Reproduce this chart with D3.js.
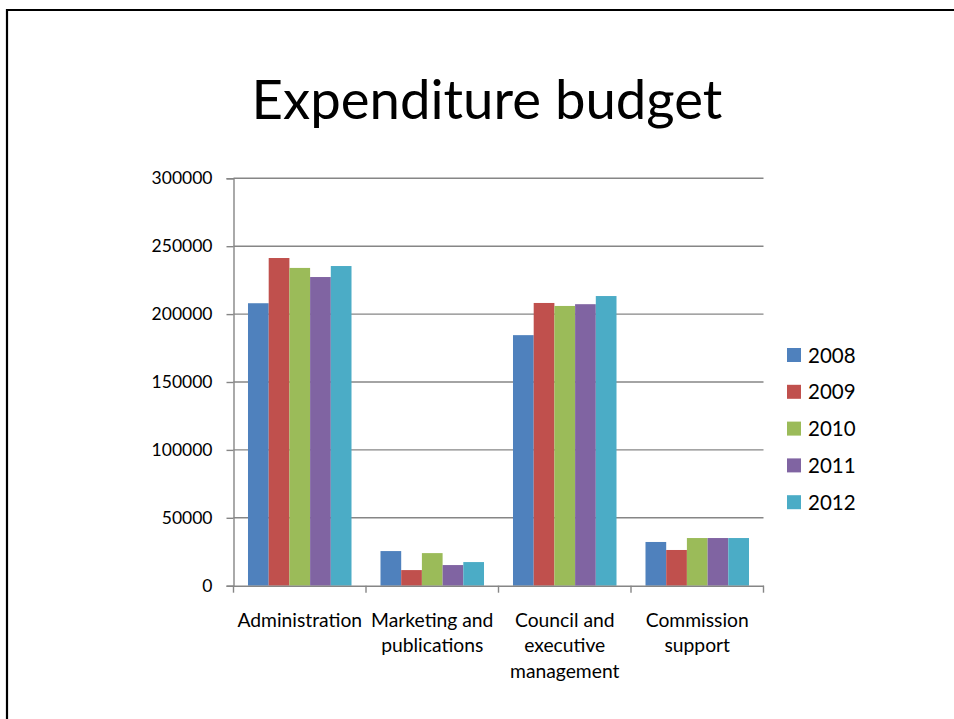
<!DOCTYPE html>
<html>
<head>
<meta charset="utf-8">
<script src="https://cdn.jsdelivr.net/npm/d3@7/dist/d3.min.js"></script>
<style>
  html, body { margin: 0; padding: 0; background: #fff; }
  svg { display: block; font-family: Lato, "Open Sans", sans-serif; }
</style>
</head>
<body>
<svg id="chart" width="954" height="719"></svg>
<script>
const title = "Expenditure budget";
const categories = [
  ["Administration"],
  ["Marketing and", "publications"],
  ["Council and", "executive", "management"],
  ["Commission", "support"]
];
const seriesNames = ["2008", "2009", "2010", "2011", "2012"];
const colors = ["#4F81BD", "#C0504D", "#9BBB59", "#8064A2", "#4BACC6"];
const values2008 = [208000, 25500, 184500, 32200];
const values2009 = [241300, 11500, 208200, 26300];
const values2010 = [234000, 24000, 206000, 35100];
const values2011 = [227300, 15200, 207300, 35100];
const values2012 = [235400, 17400, 213300, 35100];
const yTicks = [0, 50000, 100000, 150000, 200000, 250000, 300000];

const seriesValues = [values2008, values2009, values2010, values2011, values2012];
const catKeys = categories.map(c => c.join(" "));

const svg = d3.select("#chart");

// Slide frame
svg.append("path")
  .attr("d", "M7,719 V10 H954")
  .attr("fill", "none")
  .attr("stroke", "#000")
  .attr("stroke-width", 2.2);

// Title
svg.append("text")
  .attr("x", 487)
  .attr("y", 119)
  .attr("text-anchor", "middle")
  .attr("font-size", 54.5)
  .attr("fill", "#000")
  .text(title);

const plot = { left: 233.5, right: 763.5, top: 178.3, bottom: 585.7 };

const y = d3.scaleLinear().domain([0, 300000]).range([plot.bottom, plot.top]);
const x0 = d3.scaleBand().domain(catKeys).range([plot.left, plot.right]).paddingInner(0).paddingOuter(0);
const x1 = d3.scaleBand().domain(seriesNames).range([0, x0.bandwidth()]).paddingInner(0).paddingOuter(0.7);

const g = svg.append("g");

// Gridlines
g.append("g")
  .selectAll("line")
  .data(yTicks.filter(t => t > 0))
  .join("line")
  .attr("x1", plot.left)
  .attr("x2", plot.right)
  .attr("y1", d => y(d))
  .attr("y2", d => y(d))
  .attr("stroke", "#868686")
  .attr("stroke-width", 1.4);

// Bars
const groups = g.append("g")
  .selectAll("g")
  .data(catKeys)
  .join("g")
  .attr("transform", d => `translate(${x0(d)},0)`);

groups.selectAll("rect")
  .data((d, i) => seriesNames.map((s, j) => ({ s, v: seriesValues[j][i], j })))
  .join("rect")
  .attr("x", d => x1(d.s))
  .attr("width", x1.bandwidth())
  .attr("y", d => y(d.v))
  .attr("height", d => y(0) - y(d.v))
  .attr("fill", d => colors[d.j]);

// Y axis
const yAxis = d3.axisLeft(y).tickValues(yTicks).tickSize(7).tickPadding(14).tickFormat(d3.format("d"));
const yg = svg.append("g").attr("transform", `translate(${plot.left},0)`).call(yAxis);
yg.select(".domain").attr("stroke", "#868686").attr("stroke-width", 1.4);
yg.selectAll(".tick line").attr("stroke", "#868686").attr("stroke-width", 1.4);
yg.selectAll(".tick text").attr("font-size", 17.5).attr("fill", "#000").attr("font-family", "Lato, sans-serif");

// X axis
const xAxis = d3.axisBottom(x0).tickSize(0).tickFormat("");
const xg = svg.append("g").attr("transform", `translate(0,${plot.bottom})`).call(xAxis);
xg.select(".domain").attr("stroke", "#868686").attr("stroke-width", 1.4);
// category boundary ticks
xg.append("g").selectAll("line")
  .data(catKeys.map(k => x0(k)).concat([plot.right]))
  .join("line")
  .attr("x1", d => d).attr("x2", d => d)
  .attr("y1", 0).attr("y2", 7)
  .attr("stroke", "#868686").attr("stroke-width", 1.4);

// Category labels
const lineH = 25.5;
svg.append("g").selectAll("text")
  .data(categories)
  .join("text")
  .attr("x", (d, i) => x0(catKeys[i]) + x0.bandwidth() / 2)
  .attr("y", 626.5)
  .attr("text-anchor", "middle")
  .attr("font-size", 19.3)
  .attr("fill", "#000")
  .selectAll("tspan")
  .data(d => d)
  .join("tspan")
  .attr("x", function () { return d3.select(this.parentNode).attr("x"); })
  .attr("dy", (d, i) => i === 0 ? 0 : lineH)
  .text(d => d);

// Legend
const legend = svg.append("g").selectAll("g")
  .data(seriesNames)
  .join("g")
  .attr("transform", (d, i) => `translate(787,${355 + i * 36.8})`);
legend.append("rect")
  .attr("x", 0).attr("y", -7)
  .attr("width", 14).attr("height", 14)
  .attr("fill", (d, i) => colors[i]);
legend.append("text")
  .attr("x", 21)
  .attr("y", 7.5)
  .attr("font-size", 20.5)
  .attr("fill", "#000")
  .text(d => d);
</script>
</body>
</html>
